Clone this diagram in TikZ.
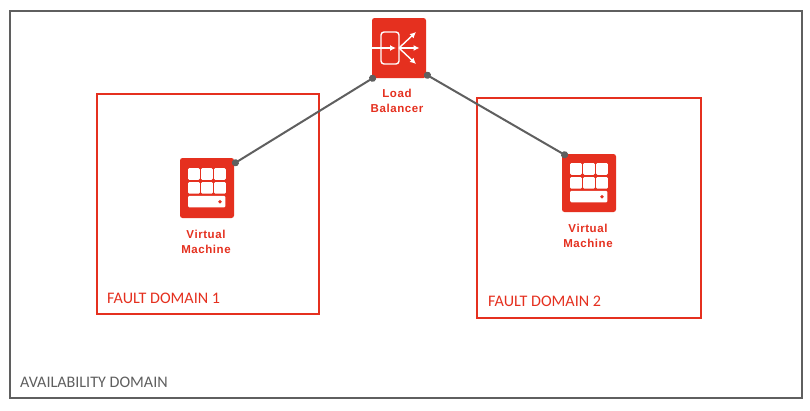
\documentclass[tikz,border=0pt]{standalone}
\usepackage{fontspec}
\setmainfont{Carlito}
\newfontfamily\labelfont[LetterSpace=5]{Liberation Sans}
\usetikzlibrary{arrows.meta}
\definecolor{oraclered}{HTML}{E5301F}
\definecolor{linegray}{HTML}{5F5F5F}
\tikzset{
  x=1pt,y=-1pt,
  outerbox/.style={draw=linegray,line width=2pt,fill=none},
  faultbox/.style={draw=oraclered,line width=2pt,fill=none},
  iconbox/.style={fill=oraclered,rounded corners=2.5pt,minimum width=54pt,minimum height=60pt,inner sep=0pt,outer sep=0pt,text=white},
  iconlabel/.style={text=oraclered,font=\labelfont\bfseries\fontsize{11.5}{15}\selectfont,align=center,inner sep=0pt},
  domainlabel/.style={anchor=west,inner sep=0pt,font=\fontsize{16.1}{18}\selectfont},
  connector/.style={draw=linegray,line width=2pt,{Circle[length=7pt,width=7pt]}-{Circle[length=7pt,width=7pt]},shorten <=-3pt,shorten >=-3pt},
  cell/.style={fill=white,rounded corners=1.2pt},
  lbline/.style={white,line width=1.4pt},
  pics/vmicon/.style={code={
    \foreach \cx in {-18.9,-5.9,7.1}{
      \foreach \cy in {-19.9,-6}{
        \fill[cell] (\cx,\cy) rectangle ++(11.7,11.7);
      }
    }
    \fill[cell] (-18.9,7.8) rectangle (18.4,19.3);
    \fill[oraclered] (13,13.7) circle (1.9);
  }}
}
\begin{document}
\begin{tikzpicture}
\useasboundingbox (0,0) rectangle (810,410);
\fill[white] (0,0) rectangle (810,410);
\node[outerbox,inner sep=0pt,minimum width=792pt,minimum height=387pt,anchor=north west] (avail) at (8.5,9.5) {};
\node[faultbox,inner sep=0pt,minimum width=222pt,minimum height=220pt,anchor=north west] (fd1) at (96.3,92.5) {};
\node[faultbox,inner sep=0pt,minimum width=224pt,minimum height=220pt,anchor=north west] (fd2) at (476.3,96.5) {};
\node[domainlabel,text=linegray] (availtext) at (20,382) {AVAILABILITY DOMAIN};
\node[domainlabel,text=oraclered] (fd1text) at (107,298) {FAULT DOMAIN 1};
\node[domainlabel,text=oraclered] (fd2text) at (488,301) {FAULT DOMAIN 2};
% load balancer
\node[iconbox] (lb) at (399,48) {};
\draw[lbline,rounded corners=3pt] (381,32) rectangle (399,64);
\draw[lbline,-{Latex[length=6pt,width=6pt]}] (372,48) -- (396,48);
\draw[lbline,-{Latex[length=6pt,width=6pt]}] (399,48) -- (419.5,48);
\draw[lbline,-{Latex[length=6pt,width=6pt]}] (399,48) -- (416,32);
\draw[lbline,-{Latex[length=6pt,width=6pt]}] (399,48) -- (416,64);
\node[iconlabel] (lbtext) at (397,101) {Load\\Balancer};
% virtual machines
\node[iconbox,minimum height=60pt] (vm1) at (207,188) {};
\pic at (207,188) {vmicon};
\node[iconlabel] (vm1text) at (206,241.5) {Virtual\\Machine};
\node[iconbox,minimum height=58pt] (vm2) at (589,183) {};
\pic at (589,183) {vmicon};
\node[iconlabel] (vm2text) at (588,236) {Virtual\\Machine};
% connectors
\coordinate (lbsw) at ([xshift=1pt]lb.south west);
\coordinate (lbse) at ([xshift=1pt,yshift=3pt]lb.south east);
\coordinate (vm1ne) at ([xshift=1pt,yshift=-5pt]vm1.north east);
\coordinate (vm2nw) at ([xshift=3pt,yshift=-1pt]vm2.north west);
\draw[connector] (lbsw) -- (vm1ne);
\draw[connector] (lbse) -- (vm2nw);
\end{tikzpicture}
\end{document}
